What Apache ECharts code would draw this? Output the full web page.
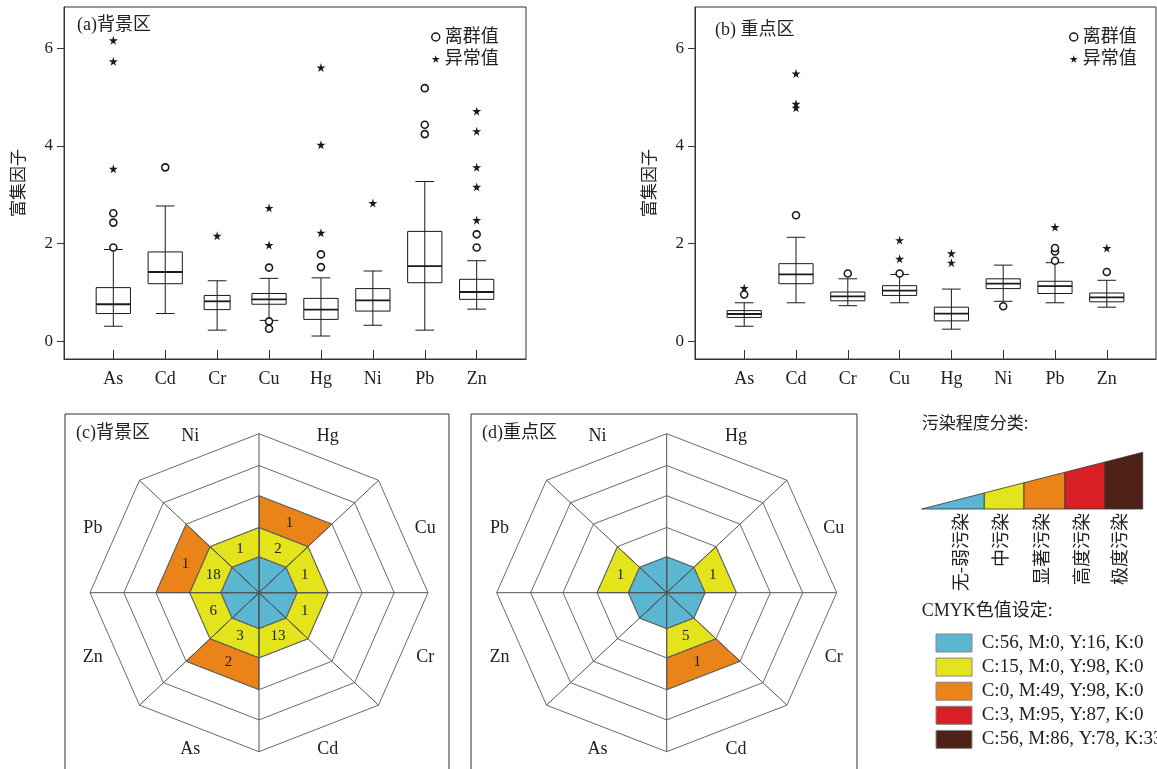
<!DOCTYPE html>
<html><head><meta charset="utf-8">
<script src="https://cdn.jsdelivr.net/npm/echarts@6/dist/echarts.min.js"></script>
<style>html,body{margin:0;padding:0;background:#fff}#c{width:1157px;height:769px}</style>
</head><body><div id="c"></div><script>
// ---------- data ----------
const elements = ['As','Cd','Cr','Cu','Hg','Ni','Pb','Zn'];
const yTicks = [0,2,4,6];
// (a) 背景区 box statistics
const aMin=[0.31,0.57,0.23,0.43,0.11,0.33,0.23,0.66];
const aQ1 =[0.57,1.18,0.65,0.76,0.45,0.62,1.20,0.86];
const aMed=[0.76,1.42,0.82,0.86,0.65,0.84,1.54,1.01];
const aQ3 =[1.10,1.83,0.94,0.98,0.88,1.08,2.25,1.27];
const aMax=[1.88,2.77,1.24,1.29,1.30,1.44,3.27,1.65];
const aCircles=[[1.92,2.43,2.62],[3.56],[],[1.51,0.41,0.26],[1.52,1.78],[],[5.18,4.43,4.24],[1.92,2.19]];
const aStars=[[3.53,5.73,6.16],[],[2.16],[1.97,2.73],[2.22,4.02,5.60],[2.83],[],[2.48,3.16,3.56,4.30,4.71]];
// (b) 重点区 box statistics
const bMin=[0.31,0.79,0.73,0.79,0.25,0.82,0.79,0.70];
const bQ1 =[0.49,1.18,0.83,0.94,0.42,1.08,0.98,0.81];
const bMed=[0.56,1.37,0.92,1.04,0.57,1.18,1.13,0.90];
const bQ3 =[0.63,1.59,1.01,1.14,0.70,1.28,1.23,0.99];
const bMax=[0.79,2.13,1.28,1.37,1.07,1.56,1.61,1.25];
const bCircles=[[0.96],[2.58],[1.39],[1.39],[],[0.72],[1.65,1.84,1.91],[1.42]];
const bStars=[[1.09],[4.78,4.86,5.48],[],[1.69,2.07],[1.61,1.80],[],[2.34],[1.91]];
// pollution level classes
const levels = ['无-弱污染','中污染','显著污染','高度污染','极度污染'];
const levelColors = ['#5bb6d2','#e4e41c','#ea8419','#d91e25','#4f2219'];
const cmykTexts = ['C:56, M:0, Y:16, K:0','C:15, M:0, Y:98, K:0','C:0, M:49, Y:98, K:0','C:3, M:95, Y:87, K:0','C:56, M:86, Y:78, K:33'];
// (c) 背景区 sample counts per level (element order)
const cModerate    =[3,13,1,1,2,1,18,6];
const cSignificant =[2,0,0,0,1,0,1,0];
const cHigh        =[0,0,0,0,0,0,0,0];
const cExtreme     =[0,0,0,0,0,0,0,0];
// (d) 重点区
const dModerate    =[0,5,0,1,0,0,1,0];
const dSignificant =[0,1,0,0,0,0,0,0];
const dHigh        =[0,0,0,0,0,0,0,0];
const dExtreme     =[0,0,0,0,0,0,0,0];

// ---------- style / layout ----------
const SERIF = "'Liberation Serif','Noto Sans CJK SC'";
const INK = '#1a1a1a';
const STAR = 'path://M50,0 L61,35 L98,35 L68,57 L79,91 L50,70 L21,91 L32,57 L2,35 L39,35 Z';
const sectorStart = {Cu:0,Hg:45,Ni:90,Pb:135,Zn:180,As:225,Cd:270,Cr:315};
const ringR = [0,1.13,2.05,3.05,4.0,5.0];
const boxWidthA = {Cr:0.5};

function boxSeries(idx, mins,q1,med,q3,maxs, widths){
  return {
    type:'custom', xAxisIndex:idx, yAxisIndex:idx, z:3,
    data: elements.map((e,i)=>[i+1,mins[i],q1[i],med[i],q3[i],maxs[i]]),
    renderItem(params, api){
      const x=api.value(0);
      const name=elements[x-1];
      const w=api.size([(widths&&widths[name])||0.66,0])[0];
      const cw=api.size([0.36,0])[0];
      const pLo=api.coord([x,api.value(1)]), pQ1=api.coord([x,api.value(2)]),
            pMd=api.coord([x,api.value(3)]), pQ3=api.coord([x,api.value(4)]),
            pHi=api.coord([x,api.value(5)]);
      const ls={stroke:INK,lineWidth:1,fill:null};
      return {type:'group',children:[
        {type:'line',shape:{x1:pLo[0],y1:pLo[1],x2:pHi[0],y2:pHi[1]},style:ls},
        {type:'line',shape:{x1:pLo[0]-cw/2,y1:pLo[1],x2:pLo[0]+cw/2,y2:pLo[1]},style:ls},
        {type:'line',shape:{x1:pHi[0]-cw/2,y1:pHi[1],x2:pHi[0]+cw/2,y2:pHi[1]},style:ls},
        {type:'rect',shape:{x:pQ3[0]-w/2,y:pQ3[1],width:w,height:pQ1[1]-pQ3[1]},style:{stroke:INK,lineWidth:1,fill:'none'}},
        {type:'line',shape:{x1:pMd[0]-w/2,y1:pMd[1],x2:pMd[0]+w/2,y2:pMd[1]},style:{stroke:INK,lineWidth:1.8}}
      ]};
    }
  };
}
function pts(arr){ return arr.flatMap((vs,i)=>vs.map(v=>[i+1,v])); }
function circleSeries(idx, arr){
  return {type:'scatter',name:'离群值',xAxisIndex:idx,yAxisIndex:idx,z:4,symbol:'circle',symbolSize:7,
    itemStyle:{color:'#fff',borderColor:INK,borderWidth:1.6,opacity:1},data:pts(arr)};
}
function starSeries(idx, arr){
  return {type:'scatter',name:'异常值',xAxisIndex:idx,yAxisIndex:idx,z:4,symbol:STAR,symbolSize:9,
    itemStyle:{color:INK,opacity:1},data:pts(arr)};
}
function wedgeData(counts){
  const out=[];
  elements.forEach((e,i)=>{
    out.push([i,0,0]);
    counts.forEach((arr,k)=>{ if(arr[i]>0) out.push([i,k+1,arr[i]]); });
  });
  return out;
}
function P(api,r,a){ return api.coord([r*Math.cos(a), r*Math.sin(a)]); }
function wedgeSeries(idx, counts){
  return {type:'custom',xAxisIndex:idx,yAxisIndex:idx,z:2,data:wedgeData(counts),
    renderItem(params, api){
      const ei=api.value(0), lv=api.value(1), cnt=api.value(2);
      const a0=sectorStart[elements[ei]]*Math.PI/180, a1=a0+Math.PI/4;
      const r0=ringR[lv], r1=ringR[lv+1];
      const pp=[P(api,r0,a0),P(api,r1,a0),P(api,r1,a1),P(api,r0,a1)];
      const ch=[{type:'polygon',shape:{points:pp},style:{fill:levelColors[lv],stroke:'#3a3a3a',lineWidth:0.8}}];
      if(cnt>0){
        const am=(a0+a1)/2, rm=(r0+r1)/2*Math.cos(Math.PI/8);
        const c=P(api,rm,am);
        ch.push({type:'text',x:c[0],y:c[1],style:{text:String(cnt),align:'center',verticalAlign:'middle',
          font:"15px 'Liberation Serif'",fill:'#222'}});
      }
      return {type:'group',children:ch};
    }};
}
function radarGridSeries(idx){
  return {type:'custom',xAxisIndex:idx,yAxisIndex:idx,z:3,silent:true,data:[[1],[2],[3],[4],[5]],
    renderItem(params, api){
      const k=api.value(0); const r=ringR[k];
      const poly=[]; for(let j=0;j<8;j++) poly.push(P(api,r,j*Math.PI/4));
      const ch=[{type:'polygon',shape:{points:poly},style:{fill:'none',stroke:'#6a6a6a',lineWidth:1}}];
      if(k===5){
        for(let j=0;j<4;j++){
          const p1=P(api,r,j*Math.PI/4), p2=P(api,r,j*Math.PI/4+Math.PI);
          ch.push({type:'line',shape:{x1:p1[0],y1:p1[1],x2:p2[0],y2:p2[1]},style:{stroke:'#555',lineWidth:1}});
        }
      }
      return {type:'group',children:ch};
    }};
}
function radarLabelSeries(idx){
  return {type:'custom',xAxisIndex:idx,yAxisIndex:idx,z:3,silent:true,data:elements.map((e,i)=>[i]),
    renderItem(params, api){
      const e=elements[api.value(0)];
      const a=(sectorStart[e]+22.5)*Math.PI/180;
      const c=P(api,5.32,a);
      return {type:'text',x:c[0],y:c[1],style:{text:e,align:'center',verticalAlign:'middle',font:"18px 'Liberation Serif'",fill:'#222'}};
    }};
}
function boxXAxis(idx){
  return {gridIndex:idx,type:'value',min:0.05,max:8.95,
    axisLine:{onZero:false,lineStyle:{color:'#333',width:1}},
    axisTick:{inside:true,length:9,customValues:elements.map((e,i)=>i+1),lineStyle:{color:'#333'}},
    axisLabel:{customValues:elements.map((e,i)=>i+1),formatter:v=>elements[Math.round(v)-1]||'',
      margin:11,fontSize:18,fontFamily:SERIF,color:'#222'},
    splitLine:{show:false}};
}
function boxYAxis(idx){
  return {gridIndex:idx,type:'value',min:-0.36,max:6.84,
    name:'富集因子',nameLocation:'middle',nameGap:36,
    nameTextStyle:{fontSize:17,fontFamily:SERIF,color:'#222'},
    axisLine:{show:true,onZero:false,lineStyle:{color:'#333',width:1}},
    axisTick:{show:true,length:7,customValues:yTicks,lineStyle:{color:'#333'}},
    axisLabel:{customValues:yTicks,margin:11,fontSize:17,fontFamily:SERIF,color:'#222'},
    splitLine:{show:false}};
}
function legendCfg(left){
  return {orient:'vertical',left:left,top:23,itemWidth:8,itemHeight:8,itemGap:4,selectedMode:false,
    textStyle:{fontSize:18,fontFamily:SERIF,color:'#222'},
    data:[{name:'离群值',icon:'circle',itemStyle:{color:'#fff',borderColor:INK,borderWidth:1.5}},
          {name:'异常值',icon:STAR,itemStyle:{color:INK}}]};
}
// legend graphics (pollution scale)
const segX=[921.7,984.3,1024,1065,1105,1142.7];
const yTop=x=>509-(x-921.7)*0.2566;
const graphics=[];
graphics.push({type:'rect',shape:{x:65,y:414,width:384,height:420},style:{fill:'none',stroke:'#333',lineWidth:1}});
graphics.push({type:'rect',shape:{x:471,y:414,width:386,height:420},style:{fill:'none',stroke:'#333',lineWidth:1}});
graphics.push({type:'text',x:921.7,y:423,style:{text:'污染程度分类:',font:"17px 'Noto Sans CJK SC'",fill:'#222',verticalAlign:'middle'}});
levels.forEach((name,i)=>{
  const x0=segX[i],x1=segX[i+1];
  graphics.push({type:'polygon',shape:{points:[[x0,509],[x1,509],[x1,yTop(x1)],[x0,yTop(x0)]]},
    style:{fill:levelColors[i],stroke:'#333',lineWidth:0.8}});
  graphics.push({type:'text',x:x1-24,y:513,rotation:Math.PI/2,
    style:{text:name,align:'right',verticalAlign:'middle',font:"18px 'Noto Sans CJK SC'",fill:'#222'}});
});
graphics.push({type:'text',x:921.7,y:611,style:{text:'CMYK色值设定:',font:"18px "+SERIF,fill:'#222',verticalAlign:'middle'}});
cmykTexts.forEach((t,i)=>{
  const y=634+i*24.1;
  graphics.push({type:'rect',shape:{x:936,y:y,width:36,height:18},style:{fill:levelColors[i],stroke:'#888',lineWidth:1}});
  graphics.push({type:'text',x:981.7,y:y+9,style:{text:t,font:"19px 'Liberation Serif'",fill:'#222',verticalAlign:'middle'}});
});

const titleStyle={fontSize:18,fontWeight:'normal',fontFamily:SERIF,color:'#222'};
const option={
  animation:false,
  backgroundColor:'#fff',
  title:[
    {text:'(a)背景区',left:77,top:16,padding:0,textStyle:titleStyle},
    {text:'(b) 重点区',left:715,top:21,padding:0,textStyle:titleStyle},
    {text:'(c)背景区',left:76,top:424,padding:0,textStyle:titleStyle},
    {text:'(d)重点区',left:482,top:424,padding:0,textStyle:titleStyle}
  ],
  legend:[legendCfg(426),legendCfg(1064)],
  grid:[
    {left:64,top:7,width:462,height:352,show:true,borderColor:'#333',borderWidth:1,backgroundColor:'transparent'},
    {left:695,top:7,width:461,height:352,show:true,borderColor:'#333',borderWidth:1,backgroundColor:'transparent'},
    {left:90,top:433.7,width:338,height:318},
    {left:496.7,top:433.7,width:340,height:318}
  ],
  xAxis:[boxXAxis(0),boxXAxis(1),
    {gridIndex:2,type:'value',min:-5,max:5,show:false},
    {gridIndex:3,type:'value',min:-5,max:5,show:false}],
  yAxis:[boxYAxis(0),boxYAxis(1),
    {gridIndex:2,type:'value',min:-5,max:5,show:false},
    {gridIndex:3,type:'value',min:-5,max:5,show:false}],
  graphic:graphics,
  series:[
    boxSeries(0,aMin,aQ1,aMed,aQ3,aMax,boxWidthA),
    circleSeries(0,aCircles), starSeries(0,aStars),
    boxSeries(1,bMin,bQ1,bMed,bQ3,bMax,null),
    circleSeries(1,bCircles), starSeries(1,bStars),
    wedgeSeries(2,[cModerate,cSignificant,cHigh,cExtreme]), radarGridSeries(2), radarLabelSeries(2),
    wedgeSeries(3,[dModerate,dSignificant,dHigh,dExtreme]), radarGridSeries(3), radarLabelSeries(3)
  ]
};
const chart=echarts.init(document.getElementById('c'),null,{renderer:'canvas'});
chart.setOption(option);
</script></body></html>
